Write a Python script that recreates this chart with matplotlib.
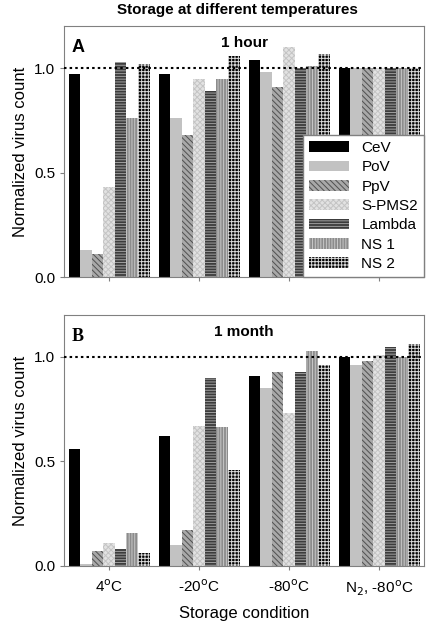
import numpy as np
import matplotlib
matplotlib.use('Agg')
import matplotlib.pyplot as plt

plt.rcParams['font.family'] = ['Liberation Sans', 'DejaVu Sans']
plt.rcParams['hatch.linewidth'] = 0.7

conditions = ['4$^{\\mathrm{o}}$C', '-20$^{\\mathrm{o}}$C', '-80$^{\\mathrm{o}}$C',
              'N$_{2}$, -80$^{\\mathrm{o}}$C']
viruses = ['CeV', 'PoV', 'PpV', 'S-PMS2', 'Lambda', 'NS 1', 'NS 2']

# rows = viruses, columns = storage conditions
hour = [
    [0.97, 0.97, 1.04, 1.00],
    [0.13, 0.76, 0.98, 1.00],
    [0.11, 0.68, 0.91, 1.00],
    [0.43, 0.95, 1.10, 1.00],
    [1.03, 0.89, 1.00, 1.00],
    [0.76, 0.95, 1.01, 1.00],
    [1.02, 1.06, 1.07, 1.00],
]
month = [
    [0.56, 0.62, 0.91, 1.00],
    [0.01, 0.10, 0.85, 0.96],
    [0.07, 0.17, 0.93, 0.98],
    [0.11, 0.67, 0.73, 1.01],
    [0.08, 0.90, 0.93, 1.05],
    [0.16, 0.665, 1.03, 1.00],
    [0.06, 0.46, 0.96, 1.06],
]

styles = [
    dict(color='black', edgecolor='black', hatch=None),
    dict(color='#c2c2c2', edgecolor='#c2c2c2', hatch=None),
    dict(color='#a8a8a8', edgecolor='#505050', hatch='\\\\\\\\\\\\'),
    dict(color='#e2e2e2', edgecolor='#c4c4c4', hatch='xxxxxx'),
    dict(color='#3c3c3c', edgecolor='#a0a0a0', hatch='------'),
    dict(color='#8c8c8c', edgecolor='#c8c8c8', hatch='||||||'),
    dict(color='black', edgecolor='#d8d8d8', hatch='+++++'),
]

fig = plt.figure(figsize=(4.27, 6.27), dpi=100)
axA = fig.add_axes([0.150, 0.558, 0.843, 0.400])
axB = fig.add_axes([0.150, 0.0973, 0.843, 0.400])

x = np.arange(len(conditions))
w = 0.9 / len(viruses)


def drawPanel(ax, data, letter, letterFont, label):
    for i, name in enumerate(viruses):
        st = styles[i]
        ax.bar(x - 0.45 + w * (i + 0.5), data[i], w, color=st['color'],
               edgecolor=st['edgecolor'], hatch=st['hatch'], linewidth=0,
               label=name, zorder=2)
    ax.axhline(1.0, color='black', linestyle=(0, (1.2, 1.5)), linewidth=1.5, zorder=3)
    ax.set_xlim(-0.5, 3.5)
    ax.set_ylim(0, 1.2)
    ax.set_yticks([0.0, 0.5, 1.0])
    ax.set_yticklabels(['0.0', '0.5', '1.0'], fontsize=11)
    ax.set_xticks(x)
    for s in ax.spines.values():
        s.set_color('#808080')
    ax.tick_params(axis='both', color='#808080', length=3)
    ax.set_ylabel('Normalized virus count', fontsize=12)
    ax.text(0.02, 0.95, letter, transform=ax.transAxes, fontsize=13,
            fontweight='bold', va='top', ha='left', family=letterFont)
    ax.text(0.5, 0.96, label, transform=ax.transAxes, fontsize=11,
            fontweight='bold', va='top', ha='center')


drawPanel(axA, hour, 'A', ['Liberation Sans'], '1 hour')
drawPanel(axB, month, 'B', ['Liberation Serif'], '1 month')

axA.set_xticklabels([])
axB.set_xticklabels(conditions, fontsize=11)
axB.tick_params(axis='x', pad=6)
axB.set_xlabel('Storage condition', fontsize=12, labelpad=6)

leg = axA.legend(loc='lower right', fontsize=11, borderaxespad=0,
                 handlelength=2.6, handleheight=0.7, labelspacing=0.35,
                 fancybox=False, framealpha=1, edgecolor='#808080')
leg.set_zorder(5)

fig.text(0.555, 0.995, 'Storage at different temperatures', fontsize=11,
         fontweight='bold', ha='center', va='top')

fig.savefig('out.png', dpi=100)
